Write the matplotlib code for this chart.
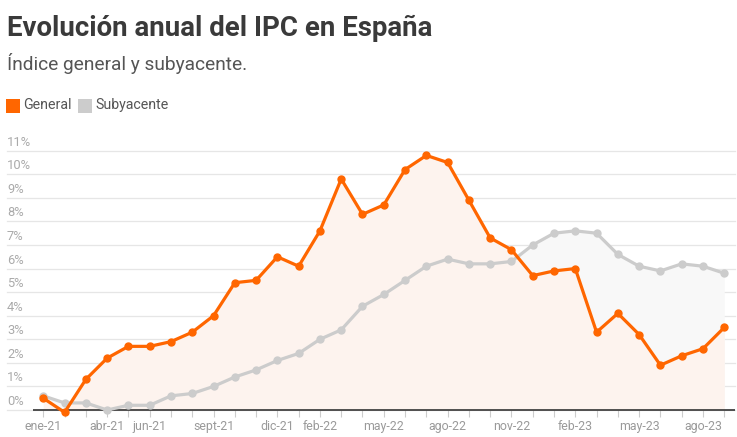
import numpy as np
import matplotlib
matplotlib.use('Agg')
import matplotlib.pyplot as plt
from matplotlib.patches import Rectangle
import matplotlib.transforms as mtransforms

plt.rcParams['font.family'] = ['Roboto', 'DejaVu Sans']

# monthly data, ene-21 .. sep-23
months = ['ene-21', 'feb-21', 'mar-21', 'abr-21', 'may-21', 'jun-21', 'jul-21', 'ago-21',
          'sept-21', 'oct-21', 'nov-21', 'dic-21', 'ene-22', 'feb-22', 'mar-22', 'abr-22',
          'may-22', 'jun-22', 'jul-22', 'ago-22', 'sept-22', 'oct-22', 'nov-22', 'dic-22',
          'ene-23', 'feb-23', 'mar-23', 'abr-23', 'may-23', 'jun-23', 'jul-23', 'ago-23',
          'sept-23']
general = [0.5, -0.1, 1.3, 2.2, 2.7, 2.7, 2.9, 3.3, 4.0, 5.4, 5.5, 6.5,
           6.1, 7.6, 9.8, 8.3, 8.7, 10.2, 10.8, 10.5, 8.9, 7.3, 6.8, 5.7,
           5.9, 6.0, 3.3, 4.1, 3.2, 1.9, 2.3, 2.6, 3.5]
subyacente = [0.6, 0.3, 0.3, 0.0, 0.2, 0.2, 0.6, 0.7, 1.0, 1.4, 1.7, 2.1,
              2.4, 3.0, 3.4, 4.4, 4.9, 5.5, 6.1, 6.4, 6.2, 6.2, 6.3, 7.0,
              7.5, 7.6, 7.5, 6.6, 6.1, 5.9, 6.2, 6.1, 5.8]
shown_labels = ['ene-21', 'abr-21', 'jun-21', 'sept-21', 'dic-21', 'feb-22', 'may-22',
                'ago-22', 'nov-22', 'feb-23', 'may-23', 'ago-23']
y_ticks = list(range(0, 12))

W, H = 737, 437
ORANGE = '#ff6600'
GREY = '#cccccc'

fig = plt.figure(figsize=(W / 100, H / 100), dpi=100)

# axes placed in pixel terms: left 7 -> right 735, top 140 -> bottom 410 (the 0% line)
ax = fig.add_axes([7 / W, 1 - 410 / H, (735 - 7) / W, (410 - 140) / H])
px_per_month = 21.28
x0 = 43.3
ax.set_xlim((7 - x0) / px_per_month, (735 - x0) / px_per_month)
px_per_pct = 23.57
ax.set_ylim(0, 11 + 10.7 / px_per_pct)

x = np.arange(len(months))

# grid + labels sitting on top of each line
lab_tr = mtransforms.blended_transform_factory(ax.transAxes, ax.transData) + \
    mtransforms.ScaledTranslation(0, 2 / 100, fig.dpi_scale_trans)
for v in y_ticks:
    ax.axhline(v, color='#e6e6e6', lw=0.9, zorder=0, clip_on=False)
    ax.text(0, v, f'{v}%', transform=lab_tr, ha='left', va='bottom', fontsize=9.3, color='#aaaaaa')

# fills
ax.fill_between(x, subyacente, 0, color='#f8f8f8', lw=0, zorder=1)
ax.fill_between(x, general, 0, color='#fdf3ee', lw=0, zorder=2)

# base line
ax.plot([(33 - x0) / px_per_month, (735 - x0) / px_per_month], [0, 0], color='#333333', lw=1.2, zorder=3,
        solid_capstyle='butt', clip_on=False)

ax.plot(x, subyacente, color=GREY, lw=2.3, marker='o', ms=5, zorder=4, clip_on=False)
ax.plot(x, general, color=ORANGE, lw=2.3, marker='o', ms=5, zorder=5, clip_on=False)

# x ticks
ax.set_xticks(x)
ax.set_xticklabels([m if m in shown_labels else '' for m in months])
ax.tick_params(axis='x', length=5, color='#cccccc', width=0.8, labelsize=8.9,
               labelcolor='#9a9a9a', pad=2.5)
ax.tick_params(axis='y', left=False, labelleft=False)
for s in ax.spines.values():
    s.set_visible(False)
ax.patch.set_visible(False)

# title, subtitle, legend
fig.text(7 / W, 1 - 28 / H, 'Evolución anual del IPC en España', fontsize=19.9, fontweight='bold',
         color='#3a3a3a', va='center', ha='left')
fig.text(7 / W, 1 - 63 / H, 'Índice general y subyacente.', fontsize=13.8, color='#555555',
         va='center', ha='left')

fig.patches.append(Rectangle((6 / W, 1 - 113 / H), 14 / W, 14 / H, transform=fig.transFigure,
                             color=ORANGE, lw=0))
fig.text(23 / W, 1 - 105 / H, 'General', fontsize=10.2, color='#555555', va='center', ha='left')
fig.patches.append(Rectangle((78 / W, 1 - 113 / H), 14 / W, 14 / H, transform=fig.transFigure,
                             color=GREY, lw=0))
fig.text(95 / W, 1 - 105 / H, 'Subyacente', fontsize=10.2, color='#555555', va='center', ha='left')

fig.savefig('out.png', dpi=100)
